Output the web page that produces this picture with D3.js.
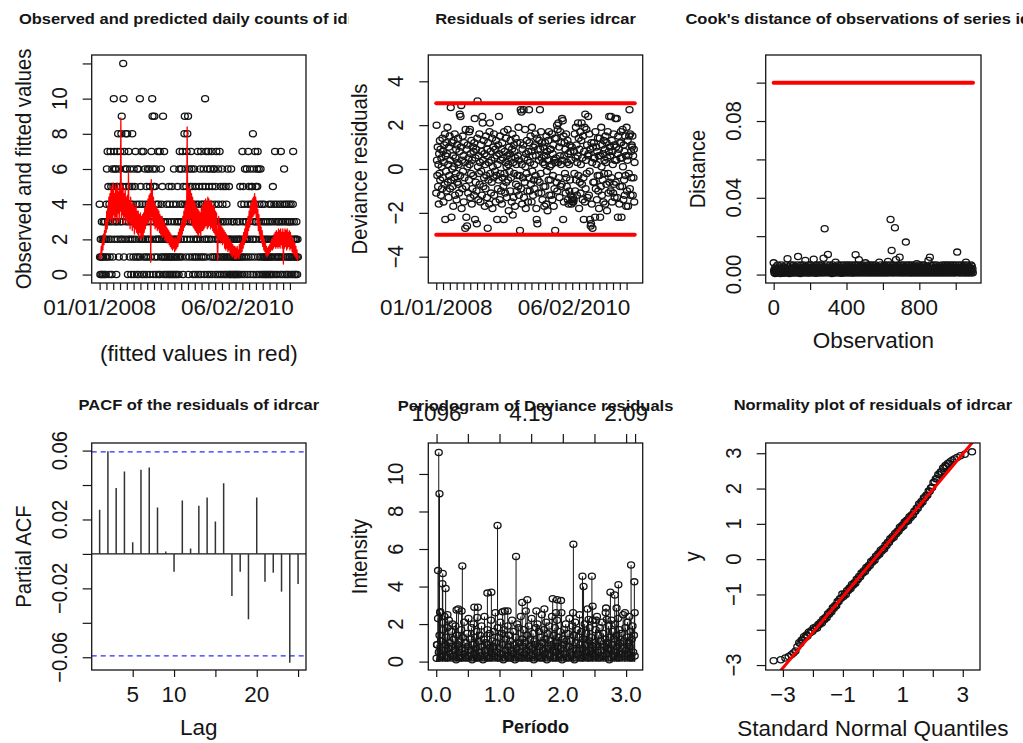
<!DOCTYPE html>
<html><head><meta charset="utf-8">
<script src="https://cdn.jsdelivr.net/npm/d3@7"></script>
<style>
body{margin:0;background:#fff}
svg{display:block;background:#fff}
text{font-family:"Liberation Sans",Arial,Helvetica,sans-serif}
</style>
</head><body>
<script>
// ---------------- DATA ----------------
// Panel 1: observed daily counts, one value every 2 days (day = 2*i)
const observedCounts = [
4,1,0,2,1,0,3,1,2,0,1,3,2,0,2, 3,1,0,2,4,6,1,7,3,5,2,0,4,1,3, 7,2,5,0,4,6,3,1,5,10,7,2,6,4,3,
6,0,5,3,7,2,8,4,1,6,5,3,7,2,4, 8,9,3,2,5,12,10,1,7,4,6,2,8,3,5, 6,8,4,0,2,7,3,5,1,6,2,4,0,3,5,
8,2,4,1,6,0,3,5,2,7,1,3,4,0,6, 3,1,6,0,2,4,10,1,5,3,2,7,0,4,2, 2,7,1,0,3,6,2,4,1,5,0,3,2,6,1,
4,2,6,0,5,3,1,4,7,2,10,9,6,0,5, 3,9,1,5,2,6,0,4,2,3,1,7,4,0,2, 2,7,0,3,6,1,4,2,5,1,9,3,0,7,2,
1,3,0,2,1,4,2,0,3,1,2,5,0,4,1, 0,2,1,3,5,0,1,2,4,0,6,1,3,2,0, 2,1,4,0,3,5,1,2,0,3,6,7,1,4,2,
3,6,1,4,7,0,5,2,3,8,9,4,6,1,5, 7,2,8,4,9,0,3,6,1,5,4,2,7,3,6, 5,1,3,0,4,2,6,1,3,5,0,2,4,1,3,
2,7,0,4,1,5,3,6,2,0,7,1,4,3,5, 4,1,6,3,0,2,10,5,1,7,2,4,0,6,3, 7,2,5,0,3,6,1,4,2,7,0,5,3,1,6,
3,6,1,4,0,5,2,7,1,3,0,2,6,4,1, 2,7,0,3,5,1,2,0,6,4,3,1,5,0,2, 1,3,0,5,2,4,1,0,6,2,3,1,5,0,2,
0,2,1,6,0,3,1,2,0,1,3,0,2,1,0, 1,0,2,1,3,0,1,2,0,1,3,2,0,5,1, 2,4,1,0,7,3,5,2,1,4,0,6,2,3,1,
3,6,2,0,4,7,1,5,3,2,6,0,4,1,5, 4,5,2,8,0,6,3,1,4,7,2,5,3,0,6, 5,7,1,3,6,0,4,2,1,6,3,0,2,4,1,
2,0,3,1,4,0,2,1,3,0,1,2,0,1,3, 1,2,0,4,1,3,0,2,1,4,0,1,3,5,2, 0,2,4,1,7,3,0,2,1,4,2,0,3,1,2,
3,1,4,2,0,7,3,1,2,4,0,3,1,2,6, 2,4,0,3,1,2,4,0,3,1,2,0,4,3,1, 3,1,4,0,2,3,1,0,4,7,2,3,1,0,2,
1,0,2,3,1,0,2,1];
const obsDayStep = 2;
// Panel 1: fitted values (red line), one value every 3 days
const fittedValues = [
0.9,1.2,0.9,1.6,1.2,1.9,1.4,2.3,1.7,2.5, 2.1,3.1,2.4,3.6,2.6,3.9,3.0,4.4,3.2,4.6,
3.0,5.0,3.2,4.8,2.9,5.2,3.4,4.6,3.1,5.1, 3.3,4.9,2.9,5.2,3.5,4.7,3.0,5.0,3.6,8.9,
3.2,4.8,3.4,5.1,2.9,4.6,3.3,4.9,3.0,4.4, 3.1,4.5,2.8,5.8,3.0,4.2,2.6,4.4,2.9,4.0,
2.5,4.1,2.7,3.9,2.3,3.8,2.6,4.0,2.4,3.6, 2.3,3.6,2.1,3.4,2.4,3.5,2.0,3.3,2.2,3.4,
2.1,3.5,2.4,3.8,2.6,3.9,2.8,4.1,2.9,4.3, 3.0,4.5,3.2,4.6,0.7,5.4,3.3,4.8,3.0,4.4,
2.8,4.1,2.6,3.9,2.7,3.8,2.5,3.7,2.6,3.6, 2.4,3.4,2.3,3.3,2.2,3.3,2.1,3.1,2.2,3.0,
2.0,2.8,1.9,2.7,1.8,2.6,1.9,2.5,1.7,2.4, 1.6,2.3,1.5,2.2,1.4,2.1,1.5,2.0,1.3,2.1,
1.4,2.0,1.5,2.2,1.6,2.4,1.8,2.6,1.9,2.8, 2.1,3.0,2.3,3.3,2.5,3.6,2.7,3.9,2.8,4.1,
3.0,8.4,3.2,4.9,3.1,5.0,2.9,4.8,3.2,4.6, 2.8,4.4,2.7,4.2,2.6,4.1,2.5,3.9,2.4,3.8,
2.3,3.7,2.2,3.6,2.4,3.5,2.2,3.8,2.5,3.9, 2.5,4.0,2.6,4.2,2.7,4.3,2.8,4.1,2.6,4.4,
2.7,4.3,2.8,4.1,2.6,4.2,2.7,3.9,2.5,4.0, 2.4,3.8,2.3,3.6,2.2,3.5,2.3,0.8,2.2,3.3,
2.0,2.9,1.8,2.8,1.9,2.7,1.7,2.6,1.8,2.5, 1.5,2.4,1.4,2.3,1.5,2.2,1.3,2.1,1.4,2.0,
1.2,1.9,1.1,1.8,1.0,1.7,1.1,1.6,0.9,1.6, 0.9,1.5,0.9,1.6,1.0,1.4,0.9,1.7,1.1,1.8,
1.2,1.9,1.3,2.2,1.5,2.4,1.7,2.6,1.9,2.9, 2.0,3.0,2.2,3.3,2.5,3.6,2.7,3.9,2.9,4.1,
3.1,4.3,3.3,4.4,3.4,4.6,3.5,4.4,3.2,4.2, 2.8,3.7,2.5,3.4,2.3,3.0,2.0,2.7,1.8,2.5,
1.6,2.2,1.4,2.0,1.3,1.8,1.1,1.6,1.0,1.5, 1.1,1.6,1.2,1.7,1.3,1.9,1.4,2.0,1.4,2.1,
1.5,2.3,1.6,2.4,1.5,2.5,1.6,2.4,1.5,2.6, 1.6,2.5,1.5,2.6,1.7,2.4,1.5,2.6,0.6,2.4,
1.5,2.6,1.6,2.5,1.4,2.6,1.5,2.4,1.6,2.5, 1.4,2.4,1.5,2.2,1.3,2.1,1.2,1.9,1.1,1.8,
1.0,1.6,0.9,1.4,0.8,1.1];
const fitDayStep = 3;
const dayTickStep = 37.5;
const dateLabelDays = [0, 760];
const dateLabels = ["01/01/2008", "06/02/2010"];

// Panel 2: deviance residuals, one value every 2 days
const devianceResiduals = [
-1.1,2.0,0.4,-0.3,1.0,-0.8,0.2,-1.6,0.7,-0.2,1.3,-0.5,0.9,-1.2,0.5,
0.1,-0.9,1.4,-0.4,0.8,-1.5,0.3,1.1,-0.7,1.6,-2.3,0.6,-0.1,1.2,-1.0,
0.7,1.9,-0.6,0.2,-1.3,1.0,-0.3,1.5,-0.9,0.4,2.8,-0.5,-2.2,1.2,0.0,
-0.8,0.6,-1.7,1.3,0.1,-0.4,1.6,-1.2,0.5,-0.2,0.9,-1.4,1.1,-0.6,0.3,
1.4,-0.7,0.2,-1.1,0.8,2.5,-0.3,2.4,1.0,2.9,-1.8,0.4,-0.9,1.5,-0.1,
0.6,-1.5,1.2,-0.4,0.3,-2.7,1.8,-0.8,-2.2,0.9,-2.6,0.1,1.1,-1.1,0.5,
-0.5,1.7,0.2,1.8,-1.3,0.7,-0.2,1.3,-1.6,0.4,-0.9,1.0,-0.3,0.8,-1.2,
1.2,2.3,-2.3,0.5,-0.6,0.9,-1.0,-2.5,1.4,3.1,0.1,-1.4,0.6,-0.2,1.6,
-0.7,0.3,-1.5,1.1,-0.1,0.8,-1.2,2.4,2.1,0.4,-0.8,1.3,-0.4,0.7,-1.7,
0.2,-0.9,1.5,-0.3,0.6,-1.3,0.9,-2.7,1.2,-0.5,0.3,-1.6,1.7,2.1,-0.2,
0.8,-1.1,0.4,-0.6,1.4,-1.8,0.1,1.0,-0.4,1.6,-1.2,0.5,-0.1,0.9,-1.5,
1.3,-0.3,0.6,-2.3,0.2,-0.9,1.1,-0.5,2.4,0.7,-1.4,1.5,-0.2,0.4,-1.0,
0.9,-1.6,1.2,-0.4,0.5,-0.8,-2.3,1.7,-0.2,0.8,-1.1,0.3,1.4,-0.6,0.1,
-1.3,0.6,1.8,-0.5,0.2,-1.9,1.0,-0.1,0.7,-1.0,1.3,-0.4,0.5,-1.5,0.9,
1.6,-2.1,0.3,-1.3,1.1,-0.2,0.8,-1.7,0.5,1.4,-0.7,0.2,-1.0,1.2,-0.3,
0.6,-0.8,1.9,-1.2,0.4,-0.3,-2.8,1.2,2.7,-0.9,2.6,0.2,-1.6,0.9,-0.4,
1.1,2.7,-1.3,0.5,-0.6,1.8,0.1,-1.8,0.7,-0.2,1.3,-1.0,0.4,-1.5,0.8,
-0.4,2.7,1.2,-1.0,0.3,1.5,-0.7,0.8,-1.5,1.9,-0.1,0.6,-1.2,1.0,-0.5,
0.2,-0.9,1.1,1.6,-0.3,0.6,-1.8,-2.3,1.4,-2.5,-0.5,0.9,-1.1,0.4,1.3,
-0.6,2.7,0.9,-0.2,1.7,-1.1,0.5,1.2,-1.4,0.3,1.0,-0.8,0.6,-1.7,0.2,
1.2,-0.8,0.6,-1.6,1.5,-0.1,0.8,-1.9,0.4,1.3,-0.5,1.7,-1.2,0.1,0.9,
-0.5,0.9,-1.2,0.2,1.6,-1.4,0.7,-0.3,1.1,-1.7,0.4,-0.9,1.4,-2.8,0.3,
0.5,1.4,-0.6,2.0,-1.0,1.8,0.3,2.1,-0.4,1.0,-1.3,0.6,1.7,-0.8,0.2,
1.2,-0.7,2.3,0.4,2.2,-2.3,1.5,-1.5,0.6,1.2,-0.2,0.9,-1.1,1.6,-0.4,
-0.8,0.3,1.3,-1.4,0.7,-1.6,0.2,-1.0,1.1,-0.5,0.8,-1.2,0.4,-1.6,1.0,
-1.4,-1.5,-1.3,-1.5,-1.4,0.8,-0.2,1.6,-1.0,0.5,1.9,-0.5,1.1,-1.2,0.3,
0.6,2.1,-0.3,1.4,-1.8,0.9,-0.6,1.7,-1.1,0.2,1.3,2.1,-0.7,0.5,-1.4,
1.5,-0.4,-2.3,0.8,1.9,-1.5,2.5,-0.9,0.4,1.8,-0.2,1.1,-1.3,0.6,2.4,
0.7,-1.2,1.6,-0.1,-2.3,0.9,-2.6,-2.5,1.2,-1.6,0.3,-2.7,1.0,-0.6,0.5,
1.2,-0.6,0.5,-2.2,1.7,-0.9,1.0,0.2,-1.4,0.8,-0.3,1.4,-1.0,0.6,-1.8,
-0.3,1.4,-2.2,0.6,-0.8,1.9,0.1,-1.2,1.1,-0.5,0.7,-1.5,1.3,-0.2,0.4,
0.9,-1.6,1.5,0.3,-0.7,1.2,-1.9,0.5,1.7,-0.2,-1.1,0.8,2.4,-0.6,1.0,
0.6,-1.0,2.4,-0.4,1.3,-1.5,0.8,0.2,-1.1,1.6,-0.7,1.1,-1.3,0.4,2.3,
-0.6,1.0,0.4,2.3,-1.3,0.7,-2.2,1.5,-0.3,0.9,-1.6,1.2,-0.8,0.5,1.7,
1.2,-2.2,0.5,-0.8,1.8,0.1,-1.4,1.1,-0.5,0.8,-1.2,1.5,-0.3,0.6,-1.7,
1.9,-1.0,0.4,1.3,-1.7,0.6,-0.2,1.5,2.7,-0.9,1.6,-1.2,0.8,-0.4,1.1,
1.0,1.5,-1.2,0.6,-0.4,0.9,-1.5,0.3];
const residualLimits = [-3, 3];

// Panel 3: Cook's distance, one value every 2 observations
const cooksDistance = [
.0061,.002,.001,.003,.0005,.002,.004,.001,.003,.002,.0008,.005,.002,.001,.003,
.002,.004,.001,.003,.0006,.002,.005,.001,.003,.002,.004,.001,.0007,.003,.002,
.004,.001,.003,.002,.005,.001,.003,.002,.0082,.001,.004,.002,.003,.0005,.002,
.003,.001,.005,.002,.0009,.003,.004,.001,.002,.005,.001,.003,.002,.004,.001,
.002,.004,.001,.003,.002,.005,.001,.0094,.003,.002,.004,.001,.003,.0006,.002,
.005,.001,.003,.002,.004,.001,.002,.005,.003,.001,.004,.002,.0073,.001,.003,
.002,.004,.001,.003,.002,.005,.0008,.003,.002,.004,.001,.003,.005,.002,.001,
.003,.002,.004,.001,.003,.008,.002,.001,.004,.002,.003,.0007,.005,.002,.003,
.001,.004,.002,.003,.001,.005,.002,.003,.001,.004,.002,.005,.001,.003,.002,
.004,.001,.0085,.003,.002,.0239,.001,.004,.002,.003,.005,.001,.003,.002,.0105,
.002,.003,.001,.004,.002,.005,.001,.003,.002,.004,.0006,.003,.002,.005,.001,
.003,.002,.004,.001,.003,.0064,.002,.001,.004,.003,.002,.005,.001,.003,.002,
.004,.001,.003,.002,.005,.001,.003,.0007,.002,.004,.001,.003,.002,.005,.001,
.003,.002,.004,.001,.003,.002,.005,.001,.004,.002,.003,.001,.005,.002,.003,
.001,.004,.002,.003,.001,.005,.002,.003,.0008,.004,.002,.003,.001,.005,.002,
.0103,.003,.001,.004,.002,.005,.001,.003,.002,.0077,.001,.004,.002,.003,.005,
.001,.003,.002,.004,.001,.005,.002,.003,.001,.004,.002,.003,.0061,.001,.004,
.002,.003,.001,.005,.002,.004,.001,.003,.002,.005,.001,.003,.004,.002,.001,
.003,.002,.005,.001,.004,.002,.003,.001,.004,.002,.005,.001,.003,.002,.004,
.001,.003,.002,.004,.001,.0064,.002,.003,.001,.005,.002,.004,.001,.003,.002,
.004,.001,.003,.002,.005,.001,.003,.002,.004,.001,.003,.005,.002,.001,.0068,
.002,.004,.001,.003,.002,.005,.0287,.003,.001,.0125,.002,.004,.001,.003,.005,
.002,.001,.004,.0244,.002,.003,.0077,.001,.004,.002,.003,.005,.001,.003,.002,
.004,.009,.001,.003,.002,.005,.001,.004,.002,.003,.001,.005,.002,.003,.001,
.004,.002,.003,.0169,.001,.005,.002,.003,.001,.004,.002,.003,.005,.001,.002,
.003,.001,.004,.002,.005,.001,.003,.002,.004,.001,.003,.002,.005,.001,.003,
.002,.004,.001,.0056,.002,.003,.001,.004,.002,.005,.001,.003,.002,.004,.001,
.003,.002,.005,.001,.004,.002,.003,.001,.005,.002,.004,.001,.003,.002,.004,
.001,.003,.002,.004,.001,.0073,.002,.003,.001,.009,.002,.005,.001,.003,.002,
.004,.001,.003,.002,.005,.001,.003,.002,.004,.001,.003,.002,.005,.001,.003,
.002,.004,.001,.003,.002,.0047,.001,.003,.002,.004,.001,.003,.002,.005,.001,
.003,.002,.004,.001,.003,.002,.005,.001,.004,.002,.003,.001,.005,.002,.003,
.001,.004,.002,.003,.001,.005,.002,.003,.001,.004,.002,.003,.005,.001,.002,
.004,.001,.003,.002,.005,.001,.003,.002,.004,.0117,.002,.003,.001,.005,.002,
.003,.001,.004,.002,.003,.001,.005,.002,.003,.001,.004,.002,.003,.005,.001,
.002,.004,.001,.0064,.002,.003,.001,.005,.002,.004,.001,.003,.002,.004,.001,
.003,.002,.005,.001,.0044,.002,.003,.001];
const cookObsStep = 2;
const cooksCutoff = 0.1;

// Panel 4: PACF of residuals, lags 1..25
const pacfLags = [1,2,3,4,5,6,7,8,9,10,11,12,13,14,15,16,17,18,19,20,21,22,23,24,25];
const pacfValues = [0.0256,0.0596,0.0382,0.0479,0.0068,0.0488,0.0502,0.0269,0.0014,-0.0103,
 0.0310,0.0031,0.0279,0.0328,0.0188,0.0411,-0.0244,-0.0103,-0.0380,0.0328,
 -0.0161,-0.0109,-0.0219,-0.0632,-0.0174];
const pacfConfLimit = 0.0592;

// Panel 5: periodogram at Fourier index k (frequency = 2*pi*k/1096)
const periodogramBase = [ // k = 1,3,5,...,547
0.18,0.9,2.3,0.5,1.4,2.6,1.1,0.3,2.1,1.7,0.6,2.4,0.9,1.3,0.2,1.8,0.7,2.2,1.0,0.4,
1.6,0.8,2.0,0.3,1.2,0.6,1.9,0.1,1.4,0.9,2.8,0.5,1.1,0.2,1.7,0.7,1.3,0.4,2.1,0.6,
1.0,0.2,1.5,0.8,2.3,0.3,1.2,0.6,1.8,0.1,0.9,2.0,0.4,1.3,0.7,1.6,0.2,2.9,1.1,0.5,
1.4,0.3,1.9,0.8,0.1,1.2,2.4,0.6,1.0,0.3,1.7,0.9,0.2,1.5,0.7,2.2,0.4,1.1,0.8,1.6,
0.3,2.6,1.0,0.5,1.8,0.2,1.3,0.7,2.1,0.4,1.5,0.9,0.1,1.7,2.7,0.6,1.2,0.3,1.9,0.8,
1.4,0.2,1.1,0.6,2.2,0.4,1.6,0.9,0.1,1.3,0.7,2.0,0.3,1.8,1.0,0.5,2.4,0.2,1.2,0.8,
1.7,0.4,1.0,2.7,0.6,1.4,0.2,1.9,0.8,1.2,0.3,2.3,0.7,1.5,0.1,1.1,0.9,1.8,0.5,2.0,
0.3,1.6,0.8,1.3,0.2,2.5,1.0,0.6,1.7,0.4,1.2,2.1,0.1,1.5,0.7,1.9,0.3,1.1,0.9,2.4,
0.6,1.4,0.2,1.8,1.0,0.5,2.2,0.8,1.3,0.3,1.6,0.7,2.6,0.1,1.2,0.9,1.7,0.4,2.0,1.1,
0.2,1.5,0.8,2.3,0.5,1.1,0.3,1.9,0.7,1.4,0.1,2.1,1.0,0.6,1.7,0.4,1.3,2.5,0.9,0.2,
1.6,0.7,1.2,0.3,2.0,0.9,1.5,0.5,2.8,0.2,1.1,1.8,0.6,1.3,0.4,2.2,0.8,1.0,0.3,1.7,
0.9,2.4,0.5,1.4,0.2,1.8,1.1,0.6,2.1,0.3,1.5,0.8,1.2,2.6,0.4,1.0,0.7,1.9,0.1,1.3,
0.6,2.2,0.9,1.6,0.3,1.2,2.0,0.5,1.4,0.8,2.3,0.2,1.7,1.0,0.4,1.5,0.7,2.5,1.1,0.3,
1.8,0.6,1.3,2.1,0.4,1.0,0.8,1.6,0.2,1.2,1.9,0.5,1.4,0.3];
const periodogramPeakK = [2,5,7,9,11,17,18,26,31,56,70,72,105,113,141,152,169,183,197,220,237,251,276,298,
 321,330,333,344,377,378,403,406,420,429,431,441,468,470,480,492,497,502,520,532,537,546,547];
const periodogramPeakValue = [0.9,4.85,11.15,8.95,2.65,4.15,4.7,3.9,2.5,2.75,2.7,5.1,2.9,2.35,3.65,3.7,7.25,2.65,2.7,5.6,3.15,3.3,2.7,2.8,
 3.35,2.6,3.3,3.25,2.6,6.25,4.55,4.0,2.25,4.55,2.95,2.2,2.85,2.25,3.7,3.55,2.85,4.1,2.6,2.4,5.15,4.25,2.6];
const seriesLength = 1096;
const topTickFreqs = [0.0057,0.5,1,1.5,2,2.5,3,3.1416];
const topTickLabels = ["1096","","","4.19","","","2.09",""];

// Panel 6: normal QQ plot (theoretical quantile, sample quantile)
const qqTheoretical = [-3.31,-3.07,-2.92,-2.81,-2.72,-2.65,-2.58,-2.52,
-2.46,-2.42,-2.38,-2.34,-2.30,-2.26,-2.22,-2.18,-2.14,-2.10,-2.06,-2.02,-1.98,-1.94,-1.90,-1.86,-1.82,-1.78,-1.74,-1.70,
-1.66,-1.62,-1.58,-1.54,-1.50,-1.46,-1.42,-1.38,-1.34,-1.30,-1.26,-1.22,-1.18,-1.14,-1.10,-1.06,-1.02,-0.98,-0.94,-0.90,
-0.86,-0.82,-0.78,-0.74,-0.70,-0.66,-0.62,-0.58,-0.54,-0.50,-0.46,-0.42,-0.38,-0.34,-0.30,-0.26,-0.22,-0.18,-0.14,-0.10,
-0.06,-0.02,0.02,0.06,0.10,0.14,0.18,0.22,0.26,0.30,0.34,0.38,0.42,0.46,0.50,0.54,0.58,0.62,0.66,0.70,
0.74,0.78,0.82,0.86,0.90,0.94,0.98,1.02,1.06,1.10,1.14,1.18,1.22,1.26,1.30,1.34,1.38,1.42,1.46,1.50,
1.54,1.58,1.62,1.66,1.70,1.74,1.78,1.82,1.86,1.90,1.94,1.98,2.02,2.06,2.10,2.14,2.18,2.22,2.26,2.30,
2.34,2.38,2.42,2.46,2.50,2.54,2.58,
2.65,2.72,2.81,2.92,3.07,3.31];
const qqSample = [-2.88,-2.85,-2.80,-2.76,-2.71,-2.66,-2.60,-2.48,
-2.37,-2.39,-2.30,-2.29,-2.20,-2.23,-2.15,-2.18,-2.07,-2.09,-2.03,-2.05,-1.95,-1.98,-1.92,-1.95,-1.85,-1.85,-1.79,-1.81,
-1.70,-1.72,-1.65,-1.66,-1.55,-1.56,-1.48,-1.49,-1.38,-1.39,-1.31,-1.32,-1.20,-1.20,-1.12,-1.11,-0.99,-1.06,-0.98,-1.00,
-0.89,-0.89,-0.82,-0.83,-0.72,-0.74,-0.67,-0.68,-0.57,-0.58,-0.49,-0.50,-0.39,-0.40,-0.33,-0.35,-0.24,-0.25,-0.18,-0.18,
-0.07,-0.09,-0.01,-0.03,0.08,0.08,0.15,0.14,0.25,0.23,0.30,0.29,0.40,0.39,0.48,0.47,0.58,0.57,0.64,0.62,
0.73,0.72,0.79,0.79,0.90,0.88,0.96,0.94,1.05,1.05,1.11,1.09,1.20,1.18,1.26,1.25,1.36,1.36,1.44,1.44,
1.56,1.55,1.63,1.62,1.74,1.73,1.81,1.81,1.93,1.92,2.02,2.03,2.17,2.19,2.28,2.28,2.40,2.39,2.47,2.47,
2.58,2.57,2.65,2.63,2.71,2.71,2.76,
2.80,2.84,2.88,2.93,2.97,3.04];
const qqLine = {intercept: -0.05, slope: 1.01};

// ---------------- DRAWING ----------------
const W = 1023, H = 743;
const INK = "#151515";
const FS = 22.5;
const svg = d3.select("body").append("svg").attr("width", W).attr("height", H);
const defs = svg.append("defs");

function hText(sel, x, y, str, o = {}) {
  return sel.append("text").attr("x", x).attr("y", y)
    .attr("text-anchor", o.anchor || "middle")
    .attr("font-size", o.size || FS).attr("font-weight", o.weight || "normal")
    .attr("fill", INK).text(str);
}
function vText(sel, x, y, str, o = {}) {
  return sel.append("text")
    .attr("transform", `translate(${x},${y}) rotate(-90) scale(${o.sx || 0.9},1)`)
    .attr("text-anchor", "middle").attr("font-size", o.size || FS)
    .attr("fill", INK).text(str);
}
function title(sel, cx, y, str) {
  return sel.append("text").attr("transform", `translate(${cx},${y}) scale(1.1,1)`)
    .attr("text-anchor", "middle").attr("font-size", 15).attr("font-weight", "bold")
    .attr("fill", INK).text(str);
}
let clipN = 0;
function clipRect(x, y, w, h) {
  const id = "clip" + (clipN++);
  defs.append("clipPath").attr("id", id).append("rect").attr("x", x).attr("y", y).attr("width", w).attr("height", h);
  return `url(#${id})`;
}
function makePanel(box, xd, yd) {
  const x = d3.scaleLinear().domain(xd).range([box.l, box.r]);
  const y = d3.scaleLinear().domain(yd).range([box.b, box.t]);
  const g = svg.append("g");
  const data = g.append("g").attr("clip-path", clipRect(box.l, box.t, box.r - box.l, box.b - box.t));
  return { g, data, x, y, box, cx: (box.l + box.r) / 2, cy: (box.t + box.b) / 2 };
}
function drawBox(p) {
  p.g.append("rect").attr("x", p.box.l).attr("y", p.box.t)
    .attr("width", p.box.r - p.box.l).attr("height", p.box.b - p.box.t)
    .attr("fill", "none").attr("stroke", INK).attr("stroke-width", 1.3);
}
function styleAxis(a) {
  a.select(".domain").remove();
  a.selectAll("line").attr("stroke", INK).attr("stroke-width", 1.2);
}
function axisLeft(p, ticks, labels) {
  const a = p.g.append("g").attr("transform", `translate(${p.box.l},0)`)
    .call(d3.axisLeft(p.y).tickValues(ticks).tickSize(9).tickSizeOuter(0).tickFormat(""));
  styleAxis(a);
  ticks.forEach((v, i) => { if (labels[i]) vText(p.g, p.box.l - 25, p.y(v), labels[i]); });
}
function axisBottom(p, ticks, labels, labelAt) {
  const a = p.g.append("g").attr("transform", `translate(0,${p.box.b})`)
    .call(d3.axisBottom(p.x).tickValues(ticks).tickSize(7).tickSizeOuter(0).tickFormat(""));
  styleAxis(a);
  const at = labelAt || ticks;
  at.forEach((v, i) => { if (labels[i]) hText(p.g, p.x(v), p.box.b + 32, labels[i]); });
}
function circles(sel, pts, sw) {
  sel.selectAll(null).data(pts).join("ellipse")
    .attr("cx", d => d[0]).attr("cy", d => d[1]).attr("rx", 3.5).attr("ry", 3.1)
    .attr("fill", "none").attr("stroke", INK).attr("stroke-width", sw || 1.3);
}

const boxesTop = [{l:91.7,r:306,t:55,b:283},{l:428.3,r:642.7,t:55,b:283},{l:765.7,r:981,t:55,b:283}];
const boxesBot = [{l:91.7,r:306,t:443,b:670},{l:428.3,r:642.7,t:443,b:670},{l:765.7,r:980,t:443,b:670}];
const nDays = seriesLength;
const dayPad = (nDays - 1) * 0.04;
const dayDomain = [-dayPad, nDays - 1 + dayPad];
const dayTicks = d3.range(0, nDays - 40, dayTickStep);

// ---- Panel 1 ----
{
  const p = makePanel(boxesTop[0], dayDomain, [-0.48, 12.48]);
  circles(p.data, observedCounts.map((v, i) => [p.x(i * obsDayStep), p.y(v)]));
  p.data.append("path").datum(fittedValues)
    .attr("d", d3.line().x((d, i) => p.x(i * fitDayStep)).y(d => p.y(d)))
    .attr("fill", "none").attr("stroke", "#ff0000").attr("stroke-width", 1.3).attr("stroke-linejoin", "round");
  drawBox(p);
  axisLeft(p, [0,2,4,6,8,10,12], ["0","2","4","6","8","10",""]);
  axisBottom(p, dayTicks, dateLabels, dateLabelDays);
  vText(p.g, p.box.l - 61, p.cy, "Observed and fitted values");
  hText(p.g, p.cx, p.box.b + 78, "(fitted values in red)");
  const tg = svg.append("g").attr("clip-path", clipRect(0, 0, 349, 60));
  title(tg, p.cx, 24, "Observed and predicted daily counts of idrcar");
}
// ---- Panel 2 ----
{
  const p = makePanel(boxesTop[1], dayDomain, [-5.2, 5.2]);
  circles(p.data, devianceResiduals.map((v, i) => [p.x(i * obsDayStep), p.y(v)]));
  residualLimits.forEach(v => {
    p.data.append("line").attr("x1", p.x(0)).attr("x2", p.x(nDays - 1)).attr("y1", p.y(v)).attr("y2", p.y(v))
      .attr("stroke", "#ff0000").attr("stroke-width", 4).attr("stroke-linecap", "round");
  });
  drawBox(p);
  axisLeft(p, [-4,-2,0,2,4], ["\u22124","\u22122","0","2","4"]);
  axisBottom(p, dayTicks, dateLabels, dateLabelDays);
  vText(p.g, p.box.l - 61, p.cy, "Deviance residuals");
  title(svg, p.cx, 24, "Residuals of series idrcar");
}
// ---- Panel 3 ----
{
  const p = makePanel(boxesTop[2], dayDomain, [-0.0044, 0.1144]);
  circles(p.data, cooksDistance.map((v, i) => [p.x(i * cookObsStep), p.y(v)]));
  p.data.append("line").attr("x1", p.x(0)).attr("x2", p.x(nDays - 1)).attr("y1", p.y(cooksCutoff)).attr("y2", p.y(cooksCutoff))
    .attr("stroke", "#ff0000").attr("stroke-width", 4).attr("stroke-linecap", "round");
  drawBox(p);
  axisLeft(p, [0,0.02,0.04,0.06,0.08,0.10], ["0.00","","0.04","","0.08",""]);
  axisBottom(p, [0,200,400,600,800,1000], ["0","","400","","800",""]);
  vText(p.g, p.box.l - 61, p.cy, "Distance");
  hText(p.g, p.cx, p.box.b + 65, "Observation");
  title(svg, p.cx, 24, "Cook's distance of observations of series idrcar");
}
// ---- Panel 4 ----
{
  const p = makePanel(boxesBot[0], [0.04, 25.96], [-0.0674, 0.0644]);
  p.data.append("line").attr("x1", p.box.l).attr("x2", p.box.r).attr("y1", p.y(0)).attr("y2", p.y(0))
    .attr("stroke", INK).attr("stroke-width", 1.2);
  [-pacfConfLimit, pacfConfLimit].forEach(v => {
    p.data.append("line").attr("x1", p.box.l).attr("x2", p.box.r).attr("y1", p.y(v)).attr("y2", p.y(v))
      .attr("stroke", "#2b2bff").attr("stroke-width", 1.2).attr("stroke-dasharray", "5,4");
  });
  p.data.selectAll(null).data(pacfLags).join("line")
    .attr("x1", d => p.x(d)).attr("x2", d => p.x(d))
    .attr("y1", p.y(0)).attr("y2", (d, i) => p.y(pacfValues[i]))
    .attr("stroke", "#333").attr("stroke-width", 1.5);
  drawBox(p);
  axisLeft(p, [-0.06,-0.04,-0.02,0,0.02,0.04,0.06], ["\u22120.06","","\u22120.02","","0.02","","0.06"]);
  axisBottom(p, [5,10,15,20,25], ["5","10","","20",""]);
  vText(p.g, p.box.l - 61, p.cy, "Partial ACF");
  hText(p.g, p.cx, p.box.b + 65, "Lag");
  title(svg, p.cx, 410, "PACF of the residuals of idrcar");
}
// ---- Panel 5 ----
{
  const p = makePanel(boxesBot[1], [-0.125, 3.262], [-0.448, 11.65]);
  const freqOf = k => 2 * Math.PI * k / seriesLength;
  const pts = periodogramBase.map((v, j) => [freqOf(1 + 2 * j), v])
    .concat(periodogramPeakK.map((k, i) => [freqOf(k), periodogramPeakValue[i]]));
  p.data.selectAll(null).data(pts).join("line")
    .attr("x1", d => p.x(d[0])).attr("x2", d => p.x(d[0]))
    .attr("y1", p.y(0)).attr("y2", d => p.y(d[1]))
    .attr("stroke", INK).attr("stroke-width", 1);
  circles(p.data, pts.map(d => [p.x(d[0]), p.y(d[1])]));
  drawBox(p);
  axisLeft(p, [0,2,4,6,8,10], ["0","2","4","6","8","10"]);
  axisBottom(p, [0,0.5,1,1.5,2,2.5,3], ["0.0","","1.0","","2.0","","3.0"]);
  const a = p.g.append("g").attr("transform", `translate(0,${p.box.t})`)
    .call(d3.axisTop(p.x).tickValues(topTickFreqs).tickSize(9).tickSizeOuter(0).tickFormat(""));
  styleAxis(a);
  topTickFreqs.forEach((f, i) => { if (topTickLabels[i]) hText(p.g, p.x(f), p.box.t - 22, topTickLabels[i]); });
  vText(p.g, p.box.l - 61, p.cy, "Intensity");
  hText(p.g, p.cx, p.box.b + 63, "Per\u00edodo", { size: 18, weight: "bold" });
  title(svg, p.cx, 411, "Periodogram of Deviance residuals");
}
// ---- Panel 6 ----
{
  const p = makePanel(boxesBot[2], [-3.575, 3.575], [-3.14, 3.29]);
  circles(p.data, qqTheoretical.map((q, i) => [p.x(q), p.y(qqSample[i])]));
  p.data.append("line")
    .attr("x1", p.x(-4)).attr("y1", p.y(qqLine.intercept + qqLine.slope * -4))
    .attr("x2", p.x(4)).attr("y2", p.y(qqLine.intercept + qqLine.slope * 4))
    .attr("stroke", "#ff0000").attr("stroke-width", 3);
  drawBox(p);
  axisLeft(p, [-3,-2,-1,0,1,2,3], ["\u22123","","\u22121","0","1","2","3"]);
  axisBottom(p, [-3,-2,-1,0,1,2,3], ["\u22123","","\u22121","","1","","3"]);
  vText(p.g, p.box.l - 66, p.cy, "y");
  hText(p.g, p.cx, p.box.b + 66, "Standard Normal Quantiles");
  title(svg, p.cx, 410, "Normality plot of residuals of idrcar");
}
</script>
</body></html>
